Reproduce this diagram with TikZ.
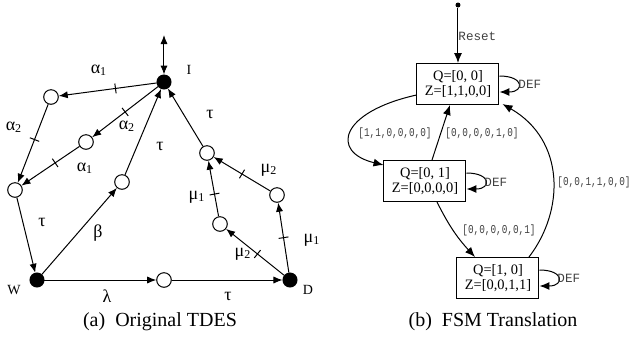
\documentclass[tikz,border=0pt]{standalone}
\usepackage{fontspec}
\setmainfont{Liberation Serif}
\setmonofont{Liberation Mono}
\newfontfamily\lbfont{Liberation Mono}[FakeStretch=0.78]
\usetikzlibrary{arrows.meta,decorations.markings,calc}
\begin{document}
\begin{tikzpicture}[x=0.5pt,y=-0.5pt, line width=0.5pt,
 >={Latex[length=4.5pt,width=3.6pt]},
 st/.style={circle,draw,minimum size=7.3pt,inner sep=0pt,fill=white},
 fi/.style={circle,draw,fill=black,minimum size=7pt,inner sep=0pt},
 gl/.style={font=\fontsize{9}{9}\selectfont, inner sep=0pt},
 nm/.style={font=\fontsize{7}{7}\selectfont, inner sep=0pt},
 tk/.style={postaction={decorate,decoration={markings,mark=at position #1 with {\draw[-] (0,-2.5pt) -- (0,2.5pt);}}}},
 box/.style={draw, minimum width=41pt, minimum height=20.5pt, align=center, inner sep=1pt, font=\fontsize{7.2}{7.6}\selectfont},
 rar/.style={-{Latex[length=5pt,width=4pt]}},
 lb/.style={font=\lbfont\fontsize{6}{6}\selectfont, text=black!75, inner sep=0pt},
 df/.style={font=\ttfamily\fontsize{6.3}{6.5}\selectfont, text=black!75, inner sep=0pt, anchor=west},
 captext/.style={font=\fontsize{10}{12}\selectfont, inner sep=0pt}
]
\useasboundingbox (0,0) rectangle (629,345);
% ---------- left diagram ----------
\coordinate (top) at (164,35);
\node[fi] (I) at (164,82) {};
\node[st] (A1) at (51,97) {};
\node[st] (A2) at (86,142) {};
\node[st] (L) at (15,190) {};
\node[st] (B) at (122,182) {};
\node[st] (T) at (207,153) {};
\node[st] (MR) at (277,195) {};
\node[st] (ML) at (220,224) {};
\node[fi] (W) at (37,280) {};
\node[fi] (D) at (290,280) {};
\node[st] (M) at (164,280) {};

\draw[<->] (top) -- (I);
\draw[->,tk=0.42] (I) -- (A1);
\draw[->,tk=0.5] (I) -- (A2);
\draw[->,tk=0.45] (A1) -- (L);
\draw[->,tk=0.42] (A2) -- (L);
\draw[->] (L) -- (W);
\draw[->] (W) -- (B);
\draw[->] (B) -- (I);
\draw[->] (T) -- (I);
\draw[->,tk=0.5] (MR) -- (T);
\draw[->,tk=0.4] (ML) -- (T);
\draw[->,tk=0.46] (D) -- (ML);
\draw[->,tk=0.5] (D) -- (MR);
\draw[->] (W) -- (M);
\draw[->] (M) -- (D);

\node[gl] (la1) at (99,70) {α\textsubscript{1}};
\node[gl] (la2) at (127,126) {α\textsubscript{2}};
\node[gl] (la3) at (14,127) {α\textsubscript{2}};
\node[gl] (la4) at (85,168) {α\textsubscript{1}};
\node[gl] (lt1) at (42,222) {τ};
\node[gl] (lb1) at (98,233) {β};
\node[gl] (lt2) at (160,146) {τ};
\node[gl] (lt3) at (210,114) {τ};
\node[gl] (lm1) at (269,170) {μ\textsubscript{2}};
\node[gl] (lm2) at (197,197) {μ\textsubscript{1}};
\node[gl] (lm3) at (243,254) {μ\textsubscript{2}};
\node[gl] (lm4) at (312,240) {μ\textsubscript{1}};
\node[gl] (ll) at (107,296) {λ};
\node[gl] (lt4) at (228,296) {τ};
\node[nm] (nI) at (189,70) {I};
\node[nm] (nW) at (14,290) {W};
\node[nm] (nD) at (308,290) {D};
\node[captext] (capa) at (160,322) {(a)\enspace Original TDES};

% ---------- right diagram ----------
\node[circle,fill,inner sep=0pt,minimum size=2.5pt] (s0) at (458,5) {};
\node[box] (Q00) at (458,84) {Q=[0, 0]\\Z=[1,1,0,0]};
\node[box] (Q01) at (425,181) {Q=[0, 1]\\Z=[0,0,0,0]};
\node[box] (Q10) at (498,278) {Q=[1, 0]\\Z=[0,0,1,1]};

\draw[rar] (s0) -- (Q00);
\node[df] (rs) at (458,36) {Reset};

\draw[rar] ([yshift=4pt]Q00.east) to[out=0,in=0,looseness=4] ([yshift=-4pt]Q00.east);
\draw[rar] ([yshift=4pt]Q01.east) to[out=0,in=0,looseness=4] ([yshift=-4pt]Q01.east);
\draw[rar] ([yshift=4pt]Q10.east) to[out=0,in=0,looseness=4] ([yshift=-4pt]Q10.east);
\node[df] (d1) at (518,84) {DEF};
\node[df] (d2) at (484,182) {DEF};
\node[df] (d3) at (557,278) {DEF};

\draw[rar] ($(Q00.west)+(0,11)$) .. controls (340,112) and (330,152) .. ($(Q01.north west)+(0,5)$);
\node[lb] (e1) at (395,133) {[1,1,0,0,0,0]};
\draw[rar] ($(Q01.north)+(7,0)$) -- ($(Q00.south)+(-8,0)$);
\node[lb] (e2) at (482,133) {[0,0,0,0,1,0]};
\draw[rar] ($(Q01.south)+(12,0)$) to[bend right=8] ($(Q10.north)+(-23,0)$);
\node[lb] (e3) at (499,230) {[0,0,0,0,0,1]};
\draw[rar] ($(Q10.north)+(31,0)$) .. controls (565,210) and (565,140) .. ($(Q00.south east)+(3,-1)$);
\node[lb, anchor=west] (e4) at (557,182) {[0,0,1,1,0,0]};
\node[captext] (capb) at (493,322) {(b)\enspace FSM Translation};
\end{tikzpicture}
\end{document}
